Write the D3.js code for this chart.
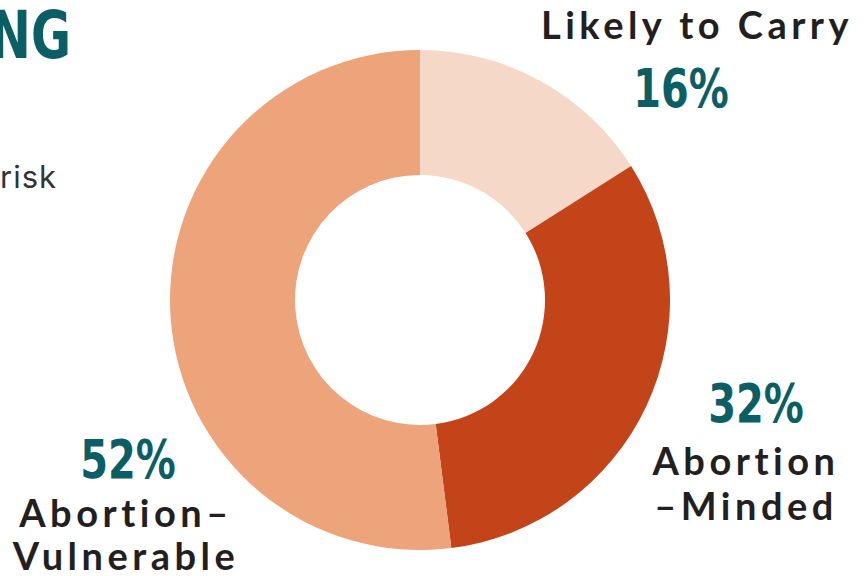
<!DOCTYPE html>
<html>
<head>
<meta charset="utf-8">
<script src="https://cdn.jsdelivr.net/npm/d3@7"></script>
<style>
  html, body { margin: 0; padding: 0; background: #ffffff; }
  svg { display: block; }
  .pct { font-family: "DejaVu Sans", sans-serif; font-weight: 700; fill: #0b5e63; }
  .lbl { font-family: "Lato", "Inter", sans-serif; font-weight: 700; fill: #231f20; }
</style>
</head>
<body>
<div id="chart"></div>
<script>
// shares of the three groups, clockwise from 12 o'clock
const categories = ["Likely to Carry", "Abortion-Minded", "Abortion-Vulnerable"];
const values = [16, 32, 52];
const colors = ["#f5d8c7", "#c4441a", "#eea47b"];
const percentLabels = ["16%", "32%", "52%"];
const nameLines = [["Likely to Carry"], ["Abortion", "\u2013Minded"], ["Abortion\u2013", "Vulnerable"]];

const width = 867, height = 576;
const cx = 420, cy = 300, outerR = 250, innerR = 125;
const narrow = 0.74; // squeeze for the condensed headline face

const svg = d3.select("#chart")
    .append("svg")
    .attr("width", width)
    .attr("height", height);

// cropped header text from the surrounding infographic
svg.append("text")
    .attr("transform", "translate(71,58) scale(" + narrow + ",1)")
    .attr("class", "pct")
    .attr("text-anchor", "end")
    .style("font-size", "66px")
    .text("NG");

svg.append("text")
    .attr("x", 0).attr("y", 188)
    .style("font-family", "Inter, 'Open Sans', sans-serif")
    .style("font-size", "31px")
    .style("letter-spacing", "1px")
    .style("fill", "#333333")
    .text("risk");

const pie = d3.pie()
    .sort(null)
    .value(d => d);

const arc = d3.arc()
    .innerRadius(innerR)
    .outerRadius(outerR);

const g = svg.append("g")
    .attr("transform", "translate(" + cx + "," + cy + ")");

g.selectAll(".slice")
    .data(pie(values))
    .enter()
    .append("path")
    .attr("class", "slice")
    .attr("fill", (d, i) => colors[i])
    .attr("d", arc);

// label placement: percentage and name lines
const labelPos = [
    {pctX: 681, pctY: 107, nameX: 697, nameY: [39]},
    {pctX: 756, pctY: 422, nameX: 746, nameY: [475, 520]},
    {pctX: 128, pctY: 478, nameX: 126, nameY: [527, 570]}
];

labelPos.forEach(function(p, i){
    svg.append("text")
        .attr("class", "pct")
        .attr("transform", "translate(" + p.pctX + "," + p.pctY + ") scale(" + narrow + ",1)")
        .attr("text-anchor", "middle")
        .style("font-size", "54px")
        .text(percentLabels[i]);

    nameLines[i].forEach(function(line, j){
        svg.append("text")
            .attr("class", "lbl")
            .attr("x", p.nameX).attr("y", p.nameY[j])
            .attr("text-anchor", "middle")
            .style("font-size", "38px")
            .style("letter-spacing", "4.5px")
            .text(line);
    });
});
</script>
</body>
</html>
